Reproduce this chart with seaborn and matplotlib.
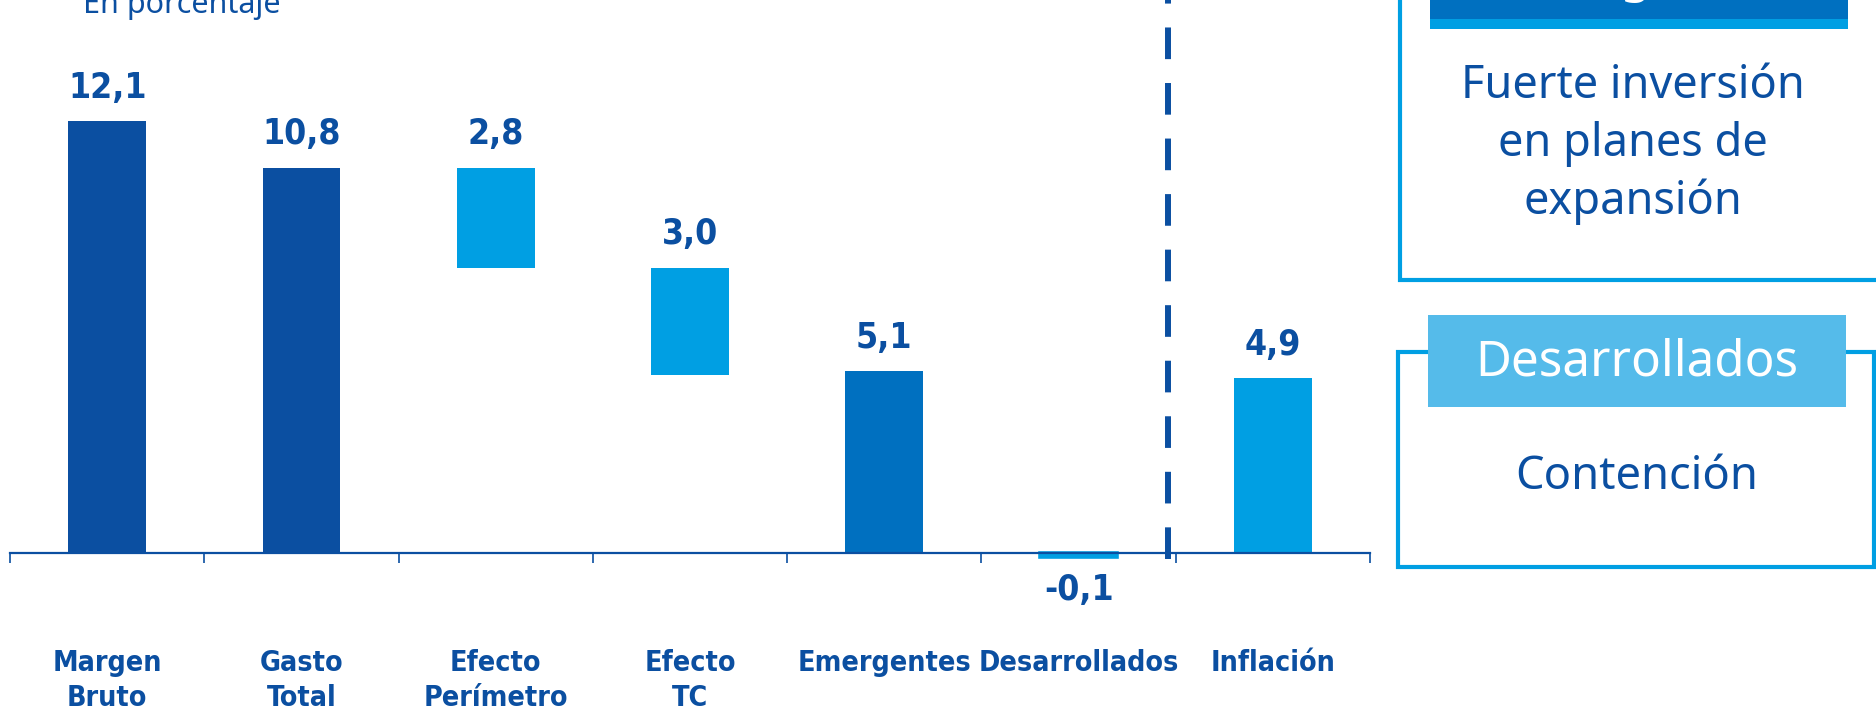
import numpy as np
import matplotlib
matplotlib.use("Agg")
import matplotlib.pyplot as plt
import seaborn as sns
from matplotlib.patches import Rectangle

# data
categories = ["Margen\nBruto", "Gasto\nTotal", "Efecto\nPerímetro", "Efecto\nTC",
              "Emergentes", "Desarrollados", "Inflación"]
values = [12.1, 10.8, 2.8, 3.0, 5.1, -0.1, 4.9]
bottoms = [0.0, 0.0, 8.0, 5.0, 0.0, 0.0, 0.0]
bar_colors = ["#0B4FA1", "#0B4FA1", "#009FE3", "#009FE3", "#0070C0", "#009FE3", "#009FE3"]

DARK = "#0B4FA1"
LIGHT = "#009FE3"
W, H = 1876, 712

sns.set_style("white")
plt.rcParams["font.family"] = ["Liberation Sans Narrow", "DejaVu Sans"]
plt.rcParams["font.stretch"] = "condensed"

fig = plt.figure(figsize=(W / 100, H / 100), dpi=100)
ax = fig.add_axes([10 / W, 0, 1360 / W, 1])

sns.barplot(x=categories, y=values, bottom=bottoms, width=0.4, color=LIGHT,
            errorbar=None, ax=ax, linewidth=0)
for patch, c in zip(ax.patches, bar_colors):
    patch.set_facecolor(c)
    patch.set_edgecolor(c)
# tiny negative bar: give it some thickness so it is visible
ax.patches[5].set_linewidth(2.6)

labels = [f"{v:.1f}".replace(".", ",") for v in values]
ax.bar_label(ax.containers[0], labels=labels, padding=12, fontsize=25.5,
             fontweight="bold", fontstretch="condensed", color=DARK)

ax.set_xlim(-0.5, 6.5)
ax.set_ylim(-4.45, 15.5)
ax.set_xlabel("")
ax.set_ylabel("")
ax.set_yticks([])
for s in ["left", "top", "right"]:
    ax.spines[s].set_visible(False)
ax.spines["bottom"].set_position(("data", 0))
ax.spines["bottom"].set_color(DARK)
ax.spines["bottom"].set_linewidth(1.6)

ax.set_xticks(np.arange(-0.5, 7, 1))
ax.set_xticklabels([])
ax.set_xticks(np.arange(7), minor=True)
ax.set_xticklabels(categories, minor=True, fontsize=20.5, fontweight="bold",
                   fontstretch="condensed", color=DARK, linespacing=1.3)
ax.tick_params(axis="x", which="major", direction="out", length=7, width=1.2,
               color=DARK, bottom=True)
ax.tick_params(axis="x", which="minor", length=0, pad=69)

# dashed separator
ax.plot([5.46, 5.46], [-0.15, 15.6], color=DARK, linewidth=4.3,
        dashes=(5.3, 4.0), clip_on=False)

# title (cut at the top)
fig.text(83 / W, 1 - 13 / H, "En porcentaje", fontsize=22, color=DARK,
         family=["Noto Sans", "DejaVu Sans"], fontstretch="normal",
         va="baseline", ha="left")


def px(x, y):
    return x / W, 1 - y / H


def rect(x0, y0, x1, y1, **kw):
    r = Rectangle(px(x0, y1), (x1 - x0) / W, (y1 - y0) / H,
                  transform=fig.transFigure, **kw)
    fig.add_artist(r)


box_font = ["Noto Sans", "DejaVu Sans"]

# box 1 (Emergentes)
rect(1400, -20, 1890, 280, facecolor="white", edgecolor=LIGHT, linewidth=3)
rect(1430, -80, 1848, 19, facecolor="#0070C0", edgecolor="none")
rect(1430, 19, 1848, 29, facecolor=LIGHT, edgecolor="none")
fig.text(*px(1639, -9), "Emergentes", fontsize=36, color="white",
         family=box_font, fontstretch="normal", ha="center", va="baseline")
fig.text(*px(1633, 144), "Fuerte inversión\nen planes de\nexpansión", fontsize=32.5,
         color=DARK, family=box_font, fontstretch="normal", ha="center",
         va="center", linespacing=1.33)

# box 2 (Desarrollados)
rect(1398, 352, 1874, 567, facecolor="white", edgecolor=LIGHT, linewidth=3)
rect(1428, 315, 1846, 407, facecolor="#55BBEA", edgecolor="none")
fig.text(*px(1637, 363), "Desarrollados", fontsize=35.5, color="white",
         family=box_font, fontstretch="normal", ha="center", va="center")
fig.text(*px(1637, 477), "Contención", fontsize=32.6, color=DARK,
         family=box_font, fontstretch="normal", ha="center", va="center")

fig.savefig("out.png", dpi=100)
